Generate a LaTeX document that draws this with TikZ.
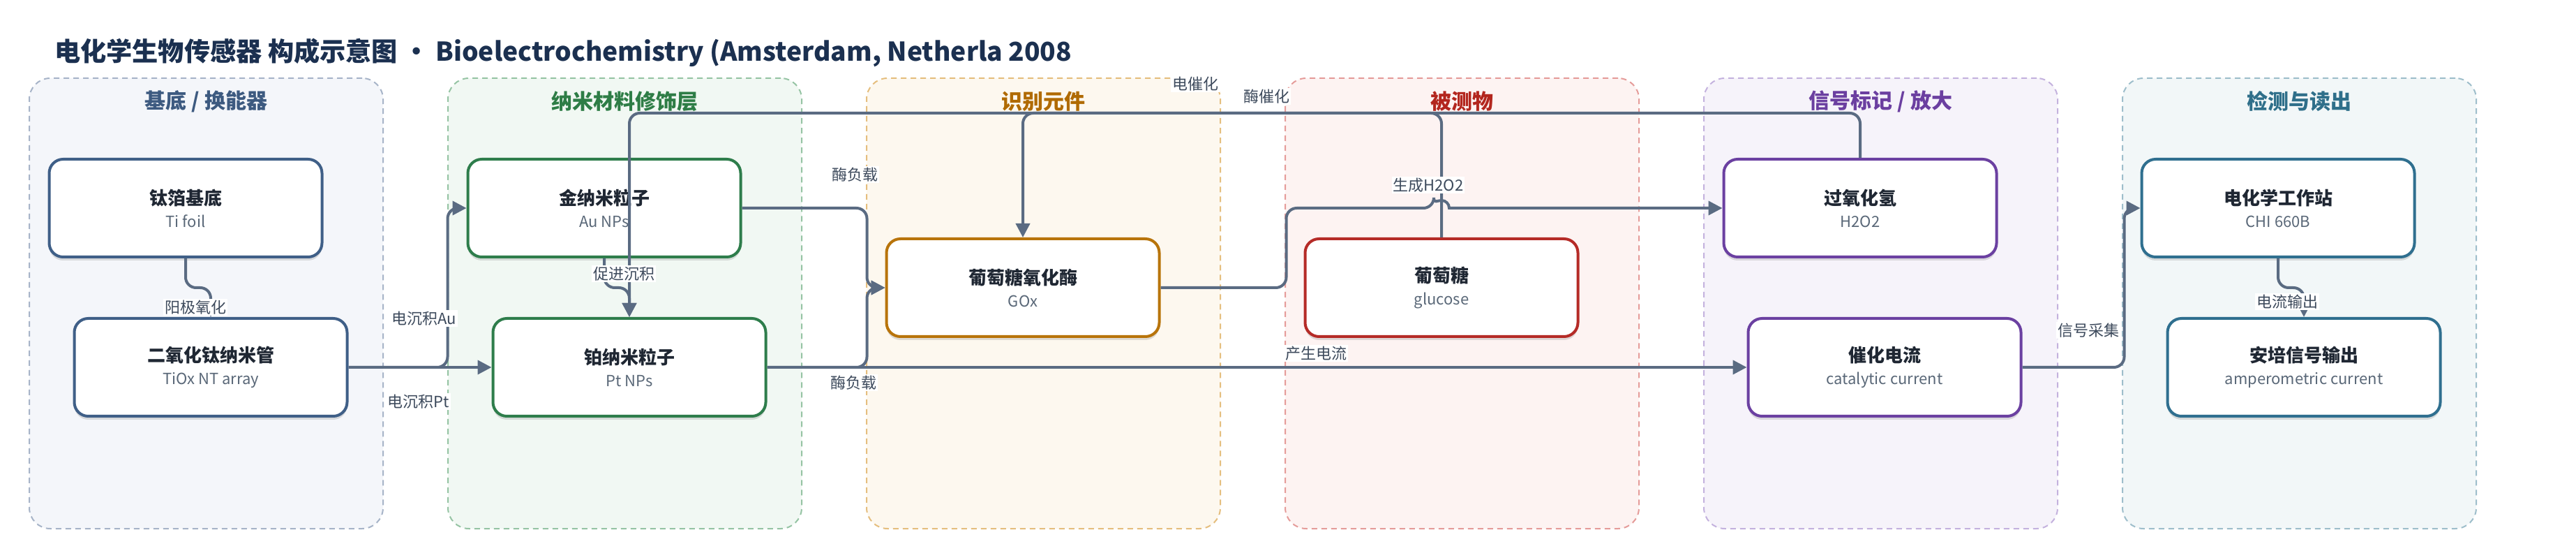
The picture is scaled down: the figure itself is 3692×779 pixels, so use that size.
\documentclass[tikz,border=0pt]{standalone}
\usepackage{fontspec}
\setmainfont{Noto Sans CJK SC}
\usetikzlibrary{arrows.meta,shadows,calc}

\definecolor{edgec}{HTML}{5A6B82}
\definecolor{ltext}{HTML}{3D4A5C}
\definecolor{ttext}{HTML}{1F2733}
\definecolor{stext}{HTML}{5A6878}
\definecolor{maintitle}{HTML}{1B3050}
\definecolor{nA}{HTML}{3F5F87}\definecolor{tA}{HTML}{3D5A80}\definecolor{fA}{HTML}{F4F6FA}\definecolor{dA}{HTML}{A7B4C8}
\definecolor{nB}{HTML}{2E7D4B}\definecolor{tB}{HTML}{2E7D46}\definecolor{fB}{HTML}{F1F8F3}\definecolor{dB}{HTML}{96C4A4}
\definecolor{nC}{HTML}{B8740B}\definecolor{tC}{HTML}{B06A00}\definecolor{fC}{HTML}{FDF8EF}\definecolor{dC}{HTML}{E5BE7E}
\definecolor{nD}{HTML}{B52B27}\definecolor{tD}{HTML}{B3261E}\definecolor{fD}{HTML}{FDF3F2}\definecolor{dD}{HTML}{E59C9A}
\definecolor{nE}{HTML}{6B40A1}\definecolor{tE}{HTML}{6B3FA0}\definecolor{fE}{HTML}{F6F3FA}\definecolor{dE}{HTML}{C4B2DE}
\definecolor{nF}{HTML}{2F6F8F}\definecolor{tF}{HTML}{2F6F8A}\definecolor{fF}{HTML}{F2F7F8}\definecolor{dF}{HTML}{9EBECB}

\newcommand\ntitle[1]{{\bfseries\color{ttext}#1}}
\newcommand\nsub[1]{{\fontsize{11pt}{16pt}\selectfont\color{stext}#1}}

\tikzset{
  grpbox/.style n args={2}{draw=#1, fill=#2, line width=1pt, dash pattern=on 4pt off 3pt,
    rounded corners=15pt, minimum width=253.5pt, minimum height=322.5pt},
  grptitle/.style={text=#1, font=\fontsize{15pt}{18pt}\selectfont\bfseries},
  box/.style={draw=#1, fill=white, line width=2pt, rounded corners=10pt,
    minimum width=195.5pt, minimum height=70pt, align=center, inner sep=0pt,
    font=\fontsize{13pt}{16pt}\selectfont,
    drop shadow={shadow xshift=0pt, shadow yshift=-2.5pt, opacity=0.12, fill=black}},
  edge/.style={draw=edgec, line width=2pt, rounded corners=7.5pt,
    -{Triangle[length=10pt,width=10pt]}},
  elabel/.style={fill=white, text=ltext, font=\fontsize{11pt}{13pt}\selectfont,
    inner xsep=1pt, inner ysep=1pt}
}

\begin{document}
\begin{tikzpicture}[x=0.5pt,y=-0.5pt]
\useasboundingbox[fill=white] (0,0) rectangle (3692,779);

\node[anchor=west, text=maintitle, font=\fontsize{18.6pt}{22pt}\selectfont\bfseries] (title) at (71,76)
  {电化学生物传感器 构成示意图 • Bioelectrochemistry (Amsterdam, Netherla 2008};

% groups
\node[grpbox={dA}{fA}] (g1) at (295.5,434.5) {};
\node[grpbox={dB}{fB}] (g2) at (895.5,434.5) {};
\node[grpbox={dC}{fC}] (g3) at (1495.5,434.5) {};
\node[grpbox={dD}{fD}] (g4) at (2095.5,434.5) {};
\node[grpbox={dE}{fE}] (g5) at (2695.5,434.5) {};
\node[grpbox={dF}{fF}] (g6) at (3295.5,434.5) {};

\node[grptitle=tA] (gt1) at (295.5,145) {基底 / 换能器};
\node[grptitle=tB] (gt2) at (895.5,145) {纳米材料修饰层};
\node[grptitle=tC] (gt3) at (1495.5,145) {识别元件};
\node[grptitle=tD] (gt4) at (2095.5,145) {被测物};
\node[grptitle=tE] (gt5) at (2695.5,145) {信号标记 / 放大};
\node[grptitle=tF] (gt6) at (3295.5,145) {检测与读出};

% nodes
\node[box=nA] (tifoil) at (266,298) {\ntitle{钛箔基底}\\\nsub{Ti foil}};
\node[box=nA] (tiox) at (302,526) {\ntitle{二氧化钛纳米管}\\\nsub{TiOx NT array}};
\node[box=nB] (au) at (866,298) {\ntitle{金纳米粒子}\\\nsub{Au NPs}};
\node[box=nB] (pt) at (902,526) {\ntitle{铂纳米粒子}\\\nsub{Pt NPs}};
\node[box=nC] (gox) at (1466,412) {\ntitle{葡萄糖氧化酶}\\\nsub{GOx}};
\node[box=nD] (glucose) at (2066,412) {\ntitle{葡萄糖}\\\nsub{glucose}};
\node[box=nE] (h2o2) at (2666,298) {\ntitle{过氧化氢}\\\nsub{H2O2}};
\node[box=nE] (cat) at (2701,526) {\ntitle{催化电流}\\\nsub{catalytic current}};
\node[box=nF] (station) at (3265,298) {\ntitle{电化学工作站}\\\nsub{CHI 660B}};
\node[box=nF] (amp) at (3302,526) {\ntitle{安培信号输出}\\\nsub{amperometric current}};

% edges
\draw[edge] (tifoil.south) -- ++(0,42) -| (tiox.north);
\draw[edge] (tiox.east) -- ++(142,0) |- (au.west);
\draw[edge] (tiox.east) -- (pt.west);
\draw[edge] (au.south) -- ++(0,42) -| (pt.north);
\draw[edge] (h2o2.north) -- ++(0,-64) -| (pt.north);
\draw[edge] (glucose.north) -- ++(0,-178) -| (gox.north);
\draw[edge] (au.east) -- ++(179,0) |- (gox.west);
\draw[edge] (pt.east) -- ++(143,0) |- (gox.west);
\draw[edge] (gox.east) -- ++(180,0) |- ($(glucose.north|-h2o2.west)+(-11,0)$)
   [sharp corners] arc[start angle=180, end angle=0, radius=5.5pt] -- (h2o2.west);
\draw[edge] (pt.east) -- (cat.west);
\draw[edge] (cat.east) -- ++(146,0) |- (station.west);
\draw[edge] (station.south) -- ++(0,42) -| (amp.north);

% edge labels
\node[elabel] (l1) at (280,440) {阳极氧化};
\node[elabel] (l2) at (894,392) {促进沉积};
\node[elabel] (l3) at (608,456) {电沉积Au};
\node[elabel] (l4) at (600,575) {电沉积Pt};
\node[elabel] (l5) at (1225,250) {酶负载};
\node[elabel] (l6) at (1223,548) {酶负载};
\node[elabel] (l7) at (1713,120) {电催化};
\node[elabel] (l8) at (1815,138) {酶催化};
\node[elabel] (l9) at (2047,265) {生成H2O2};
\node[elabel] (l10) at (1886,506) {产生电流};
\node[elabel] (l11) at (2993,473) {信号采集};
\node[elabel] (l12) at (3278,432) {电流输出};
\end{tikzpicture}
\end{document}
